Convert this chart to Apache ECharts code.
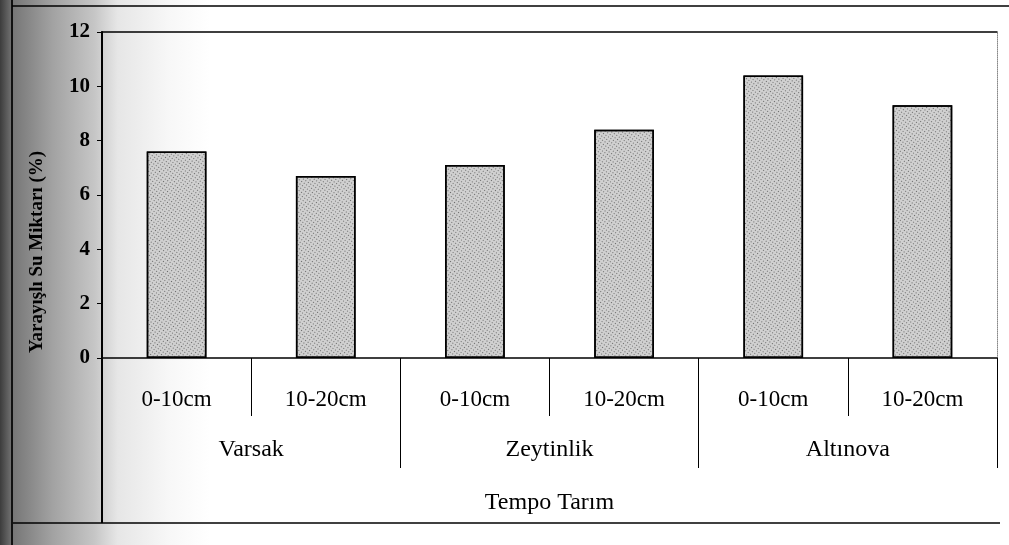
<!DOCTYPE html>
<html>
<head>
<meta charset="utf-8">
<title>Yarayışlı Su Miktarı</title>
<script src="https://cdn.jsdelivr.net/npm/echarts@6/dist/echarts.min.js"></script>
<style>
  html, body { margin: 0; padding: 0; background: #fff; }
  #chart { width: 1009px; height: 545px; }
</style>
</head>
<body>
<div id="chart"></div>
<script>
// first row of the category axis (depth)
const depths = ['0-10cm', '10-20cm', '0-10cm', '10-20cm', '0-10cm', '10-20cm']
// second row (site)
const sites = ['Varsak', 'Zeytinlik', 'Altınova']
// available water amount, %
const waterValues = [7.6, 6.7, 7.1, 8.4, 10.4, 9.3]
const groupTitle = 'Tempo Tarım'
const yTitle = 'Yarayışlı Su Miktarı (%)'

const W = 1009
const H = 545
const gridLeft = 102
const gridRight = 12
const gridTop = 32
const gridBottom = 187
const baseY = H - gridBottom
const boxBottom = 523
const serif = 'Liberation Serif'

const chart = echarts.init(document.getElementById('chart'))

const option = {
  animation: false,
  aria: { enabled: true, decal: { show: true } },
  grid: {
    left: gridLeft,
    right: gridRight,
    top: gridTop,
    bottom: gridBottom,
  },
  xAxis: [
    {
      type: 'category',
      data: depths,
      position: 'bottom',
      axisLine: { onZero: false, lineStyle: { color: '#000', width: 1.5 } },
      axisTick: { show: true, length: 58, lineStyle: { color: '#000' } },
      axisLabel: { margin: 30, fontFamily: serif, fontSize: 23, color: '#000' },
    },
    {
      type: 'category',
      data: sites,
      position: 'bottom',
      axisLine: { show: false, onZero: false },
      axisTick: { show: true, length: 110, lineStyle: { color: '#000' } },
      axisLabel: { margin: 80, fontFamily: serif, fontSize: 24, color: '#000' },
      name: groupTitle,
      nameLocation: 'middle',
      nameGap: 133,
      nameTextStyle: { fontFamily: serif, fontSize: 24, color: '#000' },
    },
    {
      // top border of the plot
      type: 'category',
      data: sites,
      position: 'top',
      axisLine: { show: true, onZero: false, lineStyle: { color: '#000', width: 1.5 } },
      axisTick: { show: false },
      axisLabel: { show: false },
    },
  ],
  yAxis: [
    {
      type: 'value',
      min: 0,
      max: 12,
      interval: 2,
      axisLine: { show: true, lineStyle: { color: '#000', width: 2 } },
      axisTick: { show: true, length: 5, lineStyle: { color: '#000' } },
      axisLabel: {
        margin: 12,
        fontFamily: serif,
        fontWeight: 'bold',
        fontSize: 21,
        color: '#000',
      },
      splitLine: { show: false },
    },
    {
      type: 'value',
      position: 'right',
      min: 0,
      max: 12,
      interval: 2,
      axisLine: { show: true, lineStyle: { color: '#888', type: 'dotted' } },
      axisTick: { show: false },
      axisLabel: { show: false },
      splitLine: { show: false },
    },
  ],
  series: [
    {
      type: 'bar',
      xAxisIndex: 0,
      yAxisIndex: 0,
      data: waterValues,
      barWidth: '40%',
      itemStyle: {
        color: '#d0d0d0',
        borderColor: '#000',
        borderWidth: 1.5,
        decal: {
          symbol: 'rect',
          symbolSize: 1,
          color: 'rgba(0, 0, 0, 0.5)',
          dashArrayX: [1, 2],
          dashArrayY: [1, 2],
          rotation: 0.6,
        },
      },
    },
  ],
  graphic: [
    {
      // scan shadow at the left edge
      type: 'rect',
      z: -100,
      shape: { x: 0, y: 0, width: 210, height: H },
      style: {
        fill: new echarts.graphic.LinearGradient(0, 0, 1, 0, [
          { offset: 0, color: '#3c3c3c' },
          { offset: 0.06, color: '#767676' },
          { offset: 0.25, color: '#a2a2a2' },
          { offset: 0.45, color: '#c6c6c6' },
          { offset: 0.56, color: '#e6e6e6' },
          { offset: 0.8, color: '#f7f7f7' },
          { offset: 1, color: '#ffffff' },
        ]),
      },
    },
    {
      type: 'text',
      x: 37,
      y: 252,
      rotation: Math.PI / 2,
      style: {
        text: yTitle,
        fontFamily: serif,
        fontWeight: 'bold',
        fontSize: 19,
        fill: '#000',
        textAlign: 'center',
        textVerticalAlign: 'middle',
      },
    },
    {
      // y axis line continues down to the box bottom
      type: 'line',
      shape: { x1: gridLeft, y1: baseY, x2: gridLeft, y2: boxBottom },
      style: { stroke: '#000', lineWidth: 2 },
    },
    {
      type: 'line',
      shape: { x1: 12, y1: boxBottom, x2: W - gridRight + 3, y2: boxBottom },
      style: { stroke: '#000', lineWidth: 1.5 },
    },
    {
      // outer frame
      type: 'line',
      shape: { x1: 12, y1: 0, x2: 12, y2: H },
      style: { stroke: '#111', lineWidth: 2 },
    },
    {
      type: 'line',
      shape: { x1: 12, y1: 6, x2: W, y2: 6 },
      style: { stroke: '#000', lineWidth: 1.5 },
    },
  ],
}

chart.setOption(option)
</script>
</body>
</html>
